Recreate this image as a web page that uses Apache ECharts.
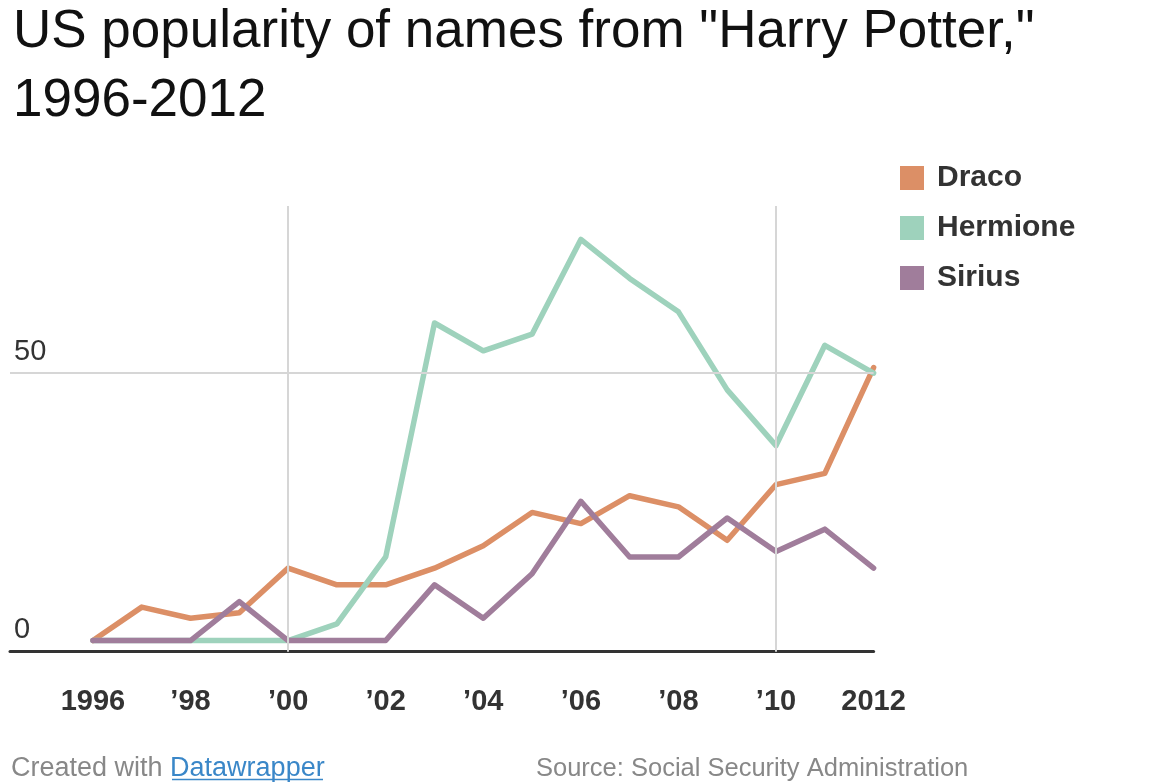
<!DOCTYPE html>
<html>
<head>
<meta charset="utf-8">
<title>US popularity of names from "Harry Potter," 1996-2012</title>
<script src="https://cdn.jsdelivr.net/npm/echarts@6/dist/echarts.min.js"></script>
<style>
  html, body { margin: 0; padding: 0; background: #fff; }
  #chart { width: 1162px; height: 784px; }
</style>
</head>
<body>
<div id="chart"></div>
<script>
// data
const years = [1996, 1997, 1998, 1999, 2000, 2001, 2002, 2003, 2004, 2005, 2006, 2007, 2008, 2009, 2010, 2011, 2012];
const draco = [2, 8, 6, 7, 15, 12, 12, 15, 19, 25, 23, 28, 26, 20, 30, 32, 51];
const hermione = [2, 2, 2, 2, 2, 5, 17, 59, 54, 57, 74, 67, 61, 47, 37, 55, 50];
const sirius = [2, 2, 2, 9, 2, 2, 2, 12, 6, 14, 27, 17, 17, 24, 18, 22, 15];

const xTickYears = [1996, 1998, 2000, 2002, 2004, 2006, 2008, 2010, 2012];
const xTickLabels = ["1996", "\u201998", "\u201900", "\u201902", "\u201904", "\u201906", "\u201908", "\u201910", "2012"];
const yTicks = [0, 50];
const gridYears = [2000, 2010];
const gridValues = [50];

const font = '"Liberation Sans", Arial, Helvetica, sans-serif';

const pairs = (vals) => years.map((y, i) => [y, vals[i]]);

const lineSeries = (name, vals, color) => ({
  name: name,
  type: "line",
  data: pairs(vals),
  showSymbol: false,
  z: 3,
  itemStyle: { color: color },
  lineStyle: { color: color, width: 5.5, cap: "round", join: "round" },
  emphasis: { disabled: true },
});

const chart = echarts.init(document.getElementById("chart"));

const options = {
  animation: false,
  title: [
    {
      text: 'US popularity of names from "Harry Potter,"\n1996-2012',
      left: 8,
      top: -7,
      textStyle: {
        fontFamily: font,
        fontSize: 53,
        fontWeight: "normal",
        color: "#111",
        lineHeight: 69,
      },
    },
    {
      text: "Created with {link|Datawrapper}",
      left: 6,
      top: 750,
      textStyle: {
        fontFamily: font,
        fontSize: 27,
        fontWeight: "normal",
        color: "#888",
        rich: {
          link: { fontFamily: font, fontSize: 27, color: "#3a87c8" },
        },
      },
    },
    {
      text: "Source: Social Security Administration",
      left: 531,
      top: 751,
      textStyle: {
        fontFamily: font,
        fontSize: 25.5,
        fontWeight: "normal",
        color: "#888",
      },
    },
  ],
  // underline of the link
  graphic: [
    {
      type: "line",
      shape: { x1: 172, y1: 779.5, x2: 323, y2: 779.5 },
      style: { stroke: "#3a87c8", lineWidth: 1.5 },
    },
  ],
  legend: {
    orient: "vertical",
    left: 895,
    top: 158,
    itemWidth: 24,
    itemHeight: 24,
    itemGap: 20,
    icon: "rect",
    selectedMode: false,
    data: ["Draco", "Hermione", "Sirius"],
    textStyle: {
      fontFamily: font,
      fontSize: 30,
      fontWeight: "bold",
      color: "#333",
      padding: [0, 0, 0, 8],
    },
  },
  grid: {
    left: 10,
    right: 288.4,
    top: 206,
    bottom: 132.3,
    containLabel: false,
  },
  xAxis: {
    type: "value",
    min: 1994.3,
    max: 2012,
    axisLine: { show: true, lineStyle: { color: "#333", width: 3 } },
    axisTick: { show: false },
    splitLine: { show: false },
    axisLabel: {
      customValues: xTickYears,
      formatter: (v) => xTickLabels[xTickYears.indexOf(v)],
      margin: 36,
      fontFamily: font,
      fontSize: 29,
      fontWeight: "bold",
      color: "#333",
    },
  },
  yAxis: {
    type: "value",
    min: 0,
    max: 80,
    axisLine: { show: false },
    axisTick: { show: false },
    splitLine: { show: false },
    axisLabel: {
      customValues: yTicks,
      inside: true,
      margin: 4,
      verticalAlign: "bottom",
      lineHeight: 29,
      padding: [0, 0, 7, 0],
      fontFamily: font,
      fontSize: 29,
      color: "#333",
    },
  },
  series: [
    {
      // grid lines only
      type: "line",
      data: [],
      z: 1,
      silent: true,
      markLine: {
        silent: true,
        symbol: "none",
        label: { show: false },
        lineStyle: { color: "#d6d6d6", width: 2, type: "solid" },
        emphasis: { disabled: true },
        data: gridYears.map((y) => ({ xAxis: y })).concat(gridValues.map((v) => ({ yAxis: v }))),
      },
    },
    lineSeries("Draco", draco, "#dc8f66"),
    lineSeries("Hermione", hermione, "#9ed2bc"),
    lineSeries("Sirius", sirius, "#a07d9b"),
  ],
};

chart.setOption(options);
</script>
</body>
</html>
